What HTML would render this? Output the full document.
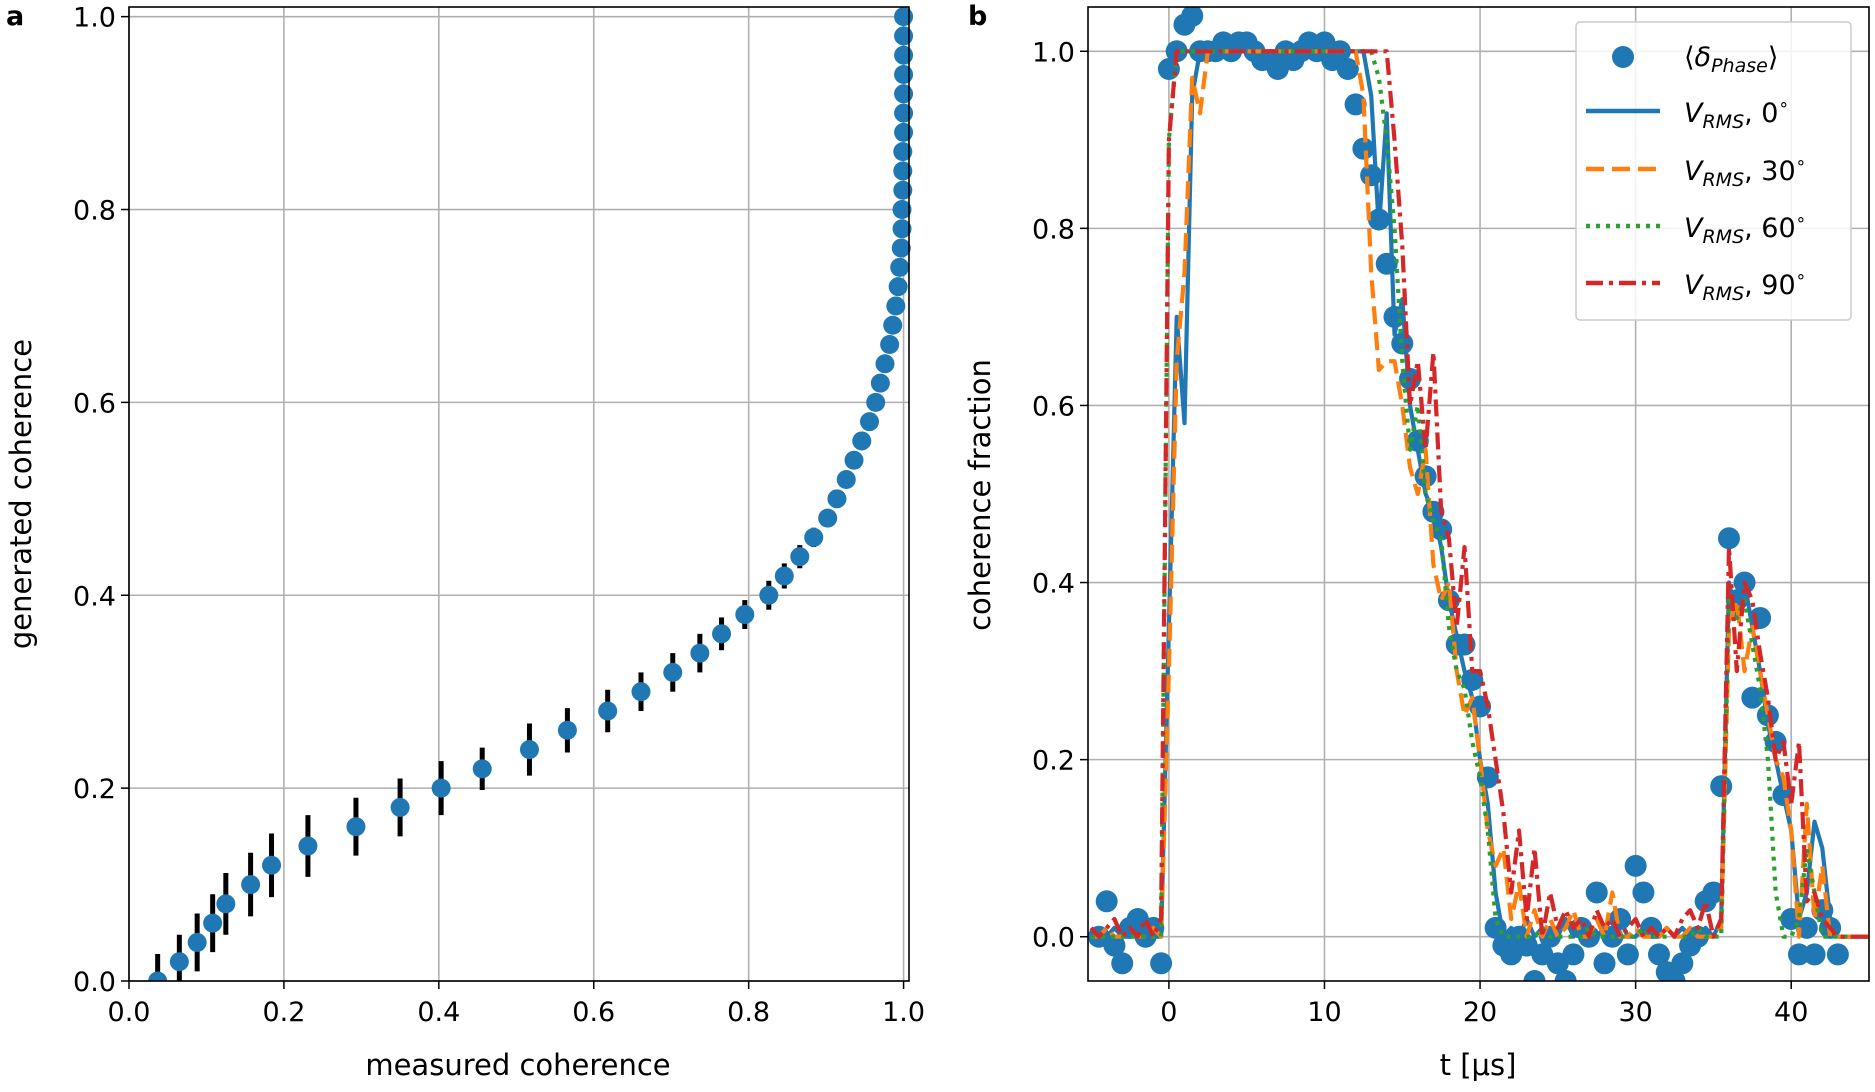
<!DOCTYPE html>
<html><head><meta charset="utf-8"><style>
body{margin:0;background:#fff;}
svg{display:block;font-family:"DejaVu Sans","Liberation Sans",sans-serif;}
</style></head><body>
<svg id="fig" width="1875" height="1092" viewBox="0 0 1875 1092" xmlns="http://www.w3.org/2000/svg"></svg>
<script>
// Panel a data
const aGenerated = [0,0.02,0.04,0.06,0.08,0.10,0.12,0.14,0.16,0.18,0.20,0.22,0.24,0.26,0.28,0.30,0.32,0.34,0.36,0.38,0.40,0.42,0.44,0.46,0.48,0.50,0.52,0.54,0.56,0.58,0.60,0.62,0.64,0.66,0.68,0.70,0.72,0.74,0.76,0.78,0.80,0.82,0.84,0.86,0.88,0.90,0.92,0.94,0.96,0.98,1.0];
const aMeasured = [0.037,0.065,0.088,0.108,0.125,0.157,0.184,0.231,0.293,0.35,0.403,0.456,0.517,0.566,0.618,0.661,0.702,0.737,0.765,0.795,0.826,0.846,0.866,0.884,0.902,0.914,0.926,0.936,0.946,0.956,0.964,0.970,0.976,0.982,0.986,0.990,0.993,0.995,0.997,0.998,0.998,0.999,0.999,0.999,1.0,1.0,1.0,1.0,1.0,1.0,1.0];
const aErr = [0.028,0.028,0.03,0.03,0.032,0.033,0.033,0.032,0.03,0.03,0.028,0.022,0.027,0.023,0.022,0.02,0.02,0.02,0.017,0.015,0.015,0.013,0.012,0.01,0.008,0,0,0,0,0,0,0,0,0,0,0,0,0,0,0,0,0,0,0,0,0,0,0,0,0,0];
const aXTicks = [0,0.2,0.4,0.6,0.8,1.0];
const aYTicks = [0,0.2,0.4,0.6,0.8,1.0];
// Panel b data (t from -5 to 45 step 0.5)
const bT = Array.from({length:101},(_,i)=>-5+i*0.5);
const bScatterT = [-4.5,-4,-3.5,-3,-2.5,-2,-1.5,-1,-0.5,0,0.5,1,1.5,2,2.5,3,3.5,4,4.5,5,5.5,6,6.5,7,7.5,8,8.5,9,9.5,10,10.5,11,11.5,12,12.5,13,13.5,14,14.5,15,15.5,16,16.5,17,17.5,18,18.5,19,19.5,20,20.5,21,21.5,22,22.5,23,23.5,24,24.5,25,25.5,26,26.5,27,27.5,28,28.5,29,29.5,30,30.5,31,31.5,32,32.5,33,33.5,34,34.5,35,35.5,36,36.5,37,37.5,38,38.5,39,39.5,40,40.5,41,41.5,42,42.5,43];
const bScatter = [0,0.04,-0.01,-0.03,0.01,0.02,0,0.01,-0.03,0.98,1.0,1.03,1.04,1.0,1.0,1.0,1.01,1.0,1.01,1.01,1.0,0.99,0.99,0.98,1.0,0.99,1.0,1.01,1.0,1.01,0.99,1.0,0.98,0.94,0.89,0.86,0.81,0.76,0.7,0.67,0.63,0.56,0.52,0.48,0.46,0.38,0.33,0.33,0.29,0.26,0.18,0.01,-0.01,-0.02,0,-0.01,-0.05,-0.02,0,-0.03,-0.05,-0.02,0.01,0,0.05,-0.03,0,0.02,-0.02,0.08,0.05,0.01,-0.02,-0.04,-0.05,-0.03,-0.01,0,0.04,0.05,0.17,0.45,0.38,0.4,0.27,0.36,0.25,0.22,0.16,0.02,-0.02,0.01,-0.02,0.03,0.01,-0.02];
const b0 = [0,0,0,0.01,0,0,0.01,0,0,0, 0.35,0.7,0.58,0.95,1, 1,1,1,1,1,1,1,1,1,1,1,1,1,1,1,1,1,1,1,1,1, 0.95,0.8,0.93,0.68,0.72,0.6,0.55,0.5,0.48,0.44,0.38,0.34,0.3,0.27,0.2,0.15,0.05, 0,0.01,0,0.02,0,0.01,0,0,0.02,0,0.01,0,0,0.01,0,0.02,0,0,0.01,0,0,0.01,0,0.01,0,0,0.01,0,0.02, 0.4,0.36,0.4,0.35,0.3,0.24,0.2,0.16,0.12,0.02,0.05,0.13,0.1,0.02,0,0,0,0,0];
const b30 = [0,0,0.01,0,0,0.01,0,0,0.01,0, 0.3,0.65,0.75,0.97,0.93, 1,1,1,1,1,1,1,1,1,1,1,1,1,1,1,1,1,1,1,1,0.95, 0.75,0.64,0.65,0.65,0.6,0.53,0.5,0.55,0.42,0.38,0.4,0.3,0.25,0.27,0.2,0.12,0.08, 0.1,0.02,0.06,0,0.03,0,0.02,0,0.01,0.03,0,0,0.02,0,0.05,0,0,0.01,0,0,0,0.01,0,0,0.01,0,0,0,0.01, 0.35,0.38,0.3,0.35,0.3,0.25,0.2,0.18,0.12,0,0.15,0.02,0.08,0,0,0,0,0,0];
const b60 = [0,0,0,0,0,0,0,0,0,0, 0.9,1,1,1,1, 1,1,1,1,1,1,1,1,1,1,1,1,1,1,1,1,1,1,1,1,1, 1,0.97,0.9,0.8,0.65,0.55,0.6,0.5,0.47,0.45,0.35,0.3,0.28,0.22,0.18,0.12,0.02, 0,0,0,0,0,0.01,0,0,0,0,0,0.01,0,0,0,0,0,0,0.01,0,0,0,0,0,0,0.01,0,0,0, 0.38,0.36,0.38,0.33,0.28,0.2,0.05,0,0,0.02,0.1,0.05,0,0,0,0,0,0,0];
const b90 = [0.01,0,0.01,0.02,0,0.01,0,0.02,0,0.02, 0.9,1,1,1,1, 1,1,1,1,1,1,1,1,1,1,1,1,1,1,1,1,1,1,1,1,1, 1,1,1,0.9,0.78,0.6,0.65,0.55,0.66,0.48,0.45,0.35,0.44,0.3,0.3,0.26,0.2, 0.14,0.05,0.12,0.02,0.1,0,0.05,0.01,0.03,0.01,0.02,0,0.03,0.01,0.02,0,0.01,0.02,0,0.01,0,0.01,0,0.02,0.03,0.01,0.04,0,0.02, 0.44,0.3,0.4,0.38,0.32,0.27,0.2,0.22,0.15,0.22,0.04,0.05,0.02,0.01,0,0,0,0,0];
const bXTicks = [0,10,20,30,40];
const bYTicks = [0,0.2,0.4,0.6,0.8,1.0];

const NS="http://www.w3.org/2000/svg";
const svg=document.getElementById('fig');
function mk(tag,attrs,parent,text){const e=document.createElementNS(NS,tag);for(const k in attrs)e.setAttribute(k,attrs[k]);if(text!==undefined)e.textContent=text;(parent||svg).appendChild(e);return e;}

const A={l:129,r:909,t:7,b:981,x0:0,x1:1.007,y0:0,y1:1.01};
const B={l:1088,r:1869,t:7,b:981,x0:-5.2,x1:45,y0:-0.05,y1:1.05};
function sx(ax,v){return ax.l+(v-ax.x0)/(ax.x1-ax.x0)*(ax.r-ax.l);}
function sy(ax,v){return ax.b-(v-ax.y0)/(ax.y1-ax.y0)*(ax.b-ax.t);}
function fmt(v,d){return v.toFixed(d);}

function axesFrame(ax,xt,yt,xd,yd,name){
  const g=mk('g',{},svg);
  
  
  xt.forEach(v=>{const x=sx(ax,v);mk('line',{x1:x,x2:x,y1:ax.t,y2:ax.b,stroke:'#b0b0b0','stroke-width':1.6},g);});
  yt.forEach(v=>{const y=sy(ax,v);mk('line',{x1:ax.l,x2:ax.r,y1:y,y2:y,stroke:'#b0b0b0','stroke-width':1.6},g);});
  const tg=mk('g',{},svg);
  
  
  xt.forEach(v=>{const x=sx(ax,v);mk('line',{x1:x,x2:x,y1:ax.b,y2:ax.b+8,stroke:'#000','stroke-width':1.5},tg);
    const t=mk('text',{x:x,y:ax.b+40,'text-anchor':'middle','font-size':27},tg,fmt(v,xd));
    });
  yt.forEach(v=>{const y=sy(ax,v);mk('line',{x1:ax.l-8,x2:ax.l,y1:y,y2:y,stroke:'#000','stroke-width':1.5},tg);
    const t=mk('text',{x:ax.l-13,y:y+10,'text-anchor':'end','font-size':27},tg,fmt(v,yd));
    });
}
function frame(ax,name){const f=mk('rect',{x:ax.l,y:ax.t,width:ax.r-ax.l,height:ax.b-ax.t,fill:'none',stroke:'#000','stroke-width':1.6});
  }

// ---- Panel a ----
axesFrame(A,aXTicks,aYTicks,1,1,'panel-a');
const clipA=mk('clipPath',{id:'ca'});mk('rect',{x:A.l,y:A.t-12,width:A.r-A.l+12,height:A.b-A.t+12},clipA);
const ga=mk('g',{'clip-path':'url(#ca)'});


aGenerated.forEach((g,i)=>{
  const x=sx(A,aMeasured[i]);
  if(aErr[i]>0){const eb=mk('line',{x1:x,x2:x,y1:sy(A,g-aErr[i]),y2:sy(A,g+aErr[i]),stroke:'#000','stroke-width':5},ga);
    }
});
aGenerated.forEach((g,i)=>{
  const c=mk('circle',{cx:sx(A,aMeasured[i]),cy:sy(A,g),r:9.5,fill:'#1f77b4'},ga);
  
});
frame(A,'panel-a');
let t;
t=mk('text',{x:518,y:1075,'text-anchor':'middle','font-size':29},svg,'measured coherence');
t=mk('text',{x:0,y:0,'text-anchor':'middle','font-size':29,transform:'translate(31,494) rotate(-90)'},svg,'generated coherence');
t=mk('text',{x:6,y:25,'font-size':27,'font-weight':'bold'},svg,'a');

// ---- Panel b ----
axesFrame(B,bXTicks,bYTicks,0,1,'panel-b');
const clipB=mk('clipPath',{id:'cb'});mk('rect',{x:B.l,y:B.t,width:B.r-B.l,height:B.b-B.t},clipB);
const gb=mk('g',{'clip-path':'url(#cb)'});


bScatter.forEach((v,i)=>{
  const c=mk('circle',{cx:sx(B,bScatterT[i]),cy:sy(B,v),r:11,fill:'#1f77b4'},gb);
  
});
const series=[[b0,'#1f77b4','','line-0deg'],[b30,'#ff7f0e','18,8','line-30deg'],[b60,'#2ca02c','4,6','line-60deg'],[b90,'#d62728','17,6,4,6','line-90deg']];
series.forEach(s=>{
  const d=s[0].map((v,i)=>(i?'L':'M')+sx(B,bT[i]).toFixed(1)+','+sy(B,v).toFixed(1)).join(' ');
  const p=mk('path',{d:d,fill:'none',stroke:s[1],'stroke-width':4.2,'stroke-dasharray':s[2]||'none','stroke-linejoin':'round'},gb);
  
});
frame(B,'panel-b');
t=mk('text',{x:1478,y:1075,'text-anchor':'middle','font-size':29},svg,'t [μs]');
t=mk('text',{x:0,y:0,'text-anchor':'middle','font-size':29,transform:'translate(990,495) rotate(-90)'},svg,'coherence fraction');
t=mk('text',{x:968,y:25,'font-size':27,'font-weight':'bold'},svg,'b');

// legend
const lg=mk('g',{});


mk('rect',{x:1576,y:22,width:275,height:298,rx:4,fill:'#fff','fill-opacity':0.85,stroke:'#ccc','stroke-width':1.5},lg);
const e0=mk('circle',{cx:1623,cy:57,r:11,fill:'#1f77b4'},lg);

t=mk('text',{x:1684,y:66,'font-size':27,'font-style':'italic'},lg);

t.innerHTML='<tspan font-style="normal">⟨</tspan>δ<tspan font-size="19" dy="6">Phase</tspan><tspan font-style="normal" dy="-6">⟩</tspan>';
const labels=['0','30','60','90'];
[111,169,226,283].forEach((y,i)=>{
  const s=series[i];
  const l=mk('line',{x1:1586,x2:1660,y1:y,y2:y,stroke:s[1],'stroke-width':4.5,'stroke-dasharray':s[2]||'none'},lg);
  
  const tx=mk('text',{x:1684,y:y+11,'font-size':27},lg);
  
  tx.innerHTML='<tspan font-style="italic">V</tspan><tspan font-style="italic" font-size="19" dy="6">RMS</tspan><tspan dy="-6">, '+labels[i]+'</tspan><tspan font-size="17" dy="-12">∘</tspan>';
});
</script>
</body></html>
